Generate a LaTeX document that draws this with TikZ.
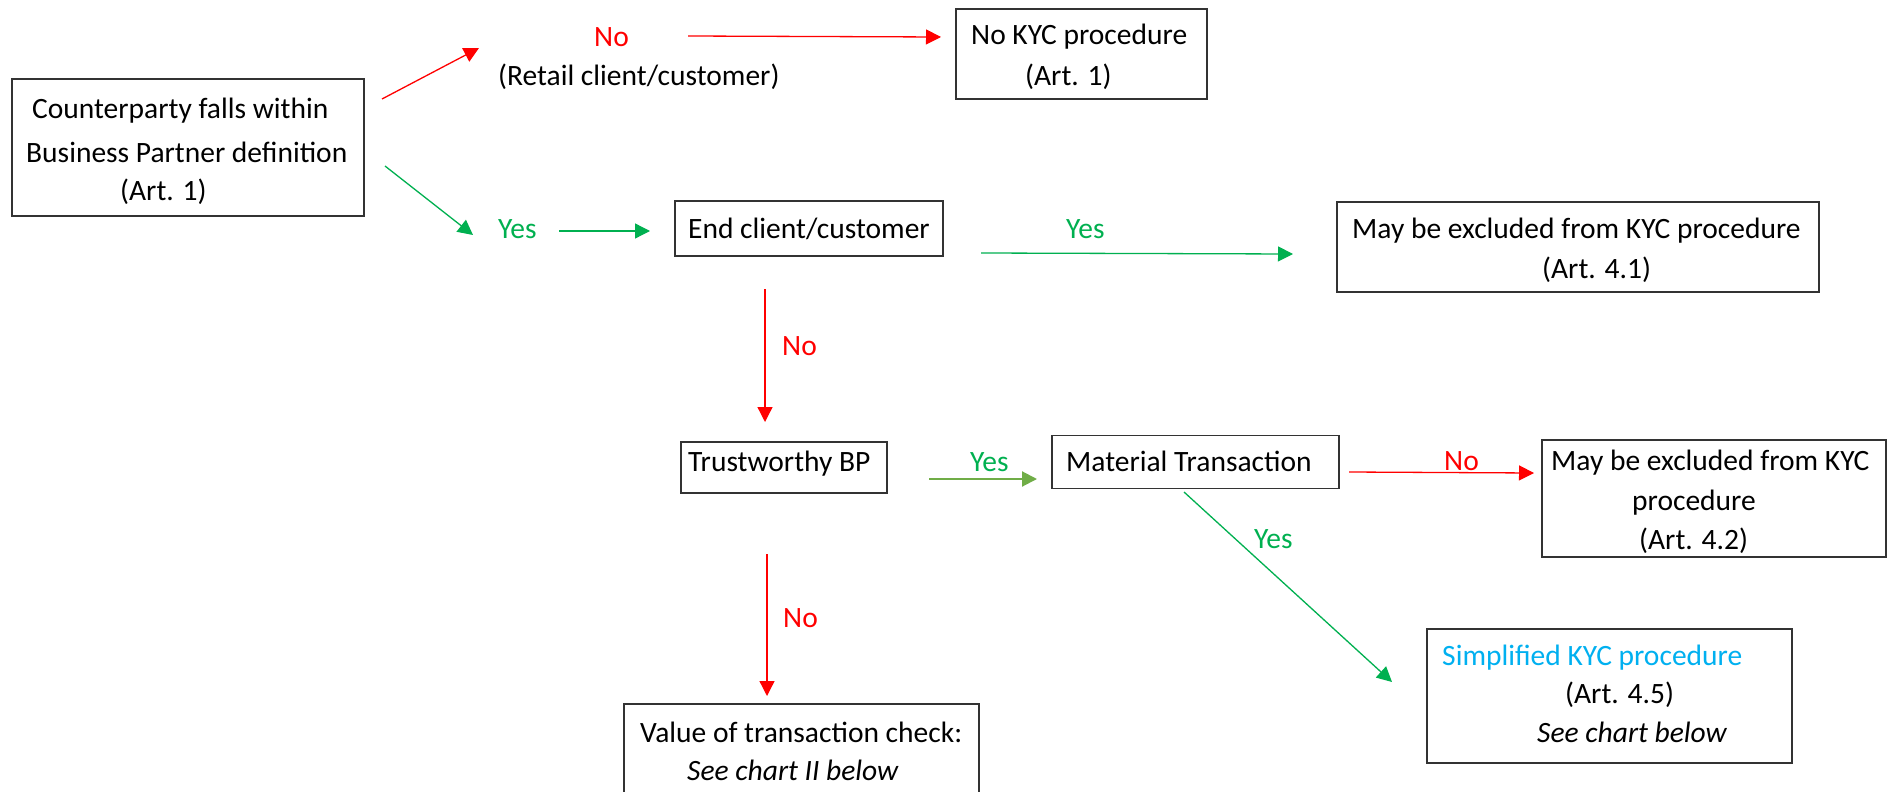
\documentclass[tikz,border=0pt]{standalone}
\usepackage{fontspec}
\setmainfont{Carlito}
\usetikzlibrary{arrows.meta}
\definecolor{cred}{HTML}{FF0000}
\definecolor{cgreen}{HTML}{00B050}
\definecolor{clgreen}{HTML}{70AD47}
\definecolor{ccyan}{HTML}{00B0F0}
\begin{document}
\begin{tikzpicture}[x=1pt,y=-1pt,
  box/.style={draw=black!80, line width=1.5pt, rectangle, inner sep=0pt},
  txt/.style={inner sep=0pt, anchor=base west, font=\fontsize{29.5}{35}\selectfont},
  redarr/.style={draw=cred, line width=1.3pt, -{Triangle[length=15pt,width=15pt]}, cred},
  grnarr/.style={draw=cgreen, line width=1.3pt, -{Triangle[length=15pt,width=15pt]}, cgreen},
  lgrnarr/.style={draw=clgreen, line width=2pt, -{Triangle[length=15pt,width=15pt]}, clgreen}]
\useasboundingbox (0,0) rectangle (1888,792);
\clip (0,0) rectangle (1888,792);
\fill[white] (0,0) rectangle (1888,792);

% boxes
\node[box, minimum width=352pt, minimum height=137pt] (A) at (188,147.5) {};
\node[box, minimum width=251pt, minimum height=90pt] (nokyc) at (1081.5,54) {};
\node[box, minimum width=268pt, minimum height=55pt] (endc) at (809,228.5) {};
\node[box, minimum width=482pt, minimum height=90pt] (ex41) at (1578,247) {};
\node[box, minimum width=206pt, minimum height=51pt] (trust) at (784,467.5) {};
\node[box, minimum width=287pt, minimum height=53pt] (mat) at (1195.5,462) {};
\node[box, minimum width=344pt, minimum height=117pt] (ex42) at (1714,498.5) {};
\node[box, minimum width=365pt, minimum height=134pt] (simp) at (1609.5,696) {};
\node[box, minimum width=355pt, minimum height=120pt] (val) at (801.5,764) {};

% texts
\node[txt] (tA1) at (32,118) {Counterparty falls within};
\node[txt] (tA2) at (26,162) {Business Partner definition};
\node[txt] (tA3) at (120,200) {(Art. 1)};
\node[txt, text=cred] (lNo1) at (594,47) {No};
\node[txt] (lRetail) at (498,85) {(Retail client/customer)};
\node[txt, text=cgreen] (lYes1) at (498,238) {Yes};
\node[txt] (tEnd) at (688,238) {End client/customer};
\node[txt] (tNok1) at (971,45) {No KYC procedure};
\node[txt] (tNok2) at (1025,85) {(Art. 1)};
\node[txt, text=cgreen] (lYes2) at (1066,238) {Yes};
\node[txt] (tE41a) at (1352,238) {May be excluded from KYC procedure};
\node[txt] (tE41b) at (1542,278) {(Art. 4.1)};
\node[txt, text=cred] (lNo2) at (782,355) {No};
\node[txt] (tTrust) at (688,471) {Trustworthy BP};
\node[txt, text=cgreen] (lYes3) at (970,471) {Yes};
\node[txt] (tMat) at (1066,471) {Material Transaction};
\node[txt, text=cgreen] (lYes4) at (1254,548) {Yes};
\node[txt, text=cred] (lNo3) at (1444,470) {No};
\node[txt] (tE42a) at (1551,470) {May be excluded from KYC};
\node[txt] (tE42b) at (1632,510) {procedure};
\node[txt] (tE42c) at (1639,549) {(Art. 4.2)};
\node[txt, text=ccyan] (tS1) at (1442,665) {Simplified KYC procedure};
\node[txt] (tS2) at (1565,703) {(Art. 4.5)};
\node[txt, font=\fontsize{29.5}{35}\selectfont\itshape] (tS3) at (1537,742) {See chart below};
\node[txt, text=cred] (lNo4) at (783,627) {No};
\node[txt] (tV1) at (640,742) {Value of transaction check:};
\node[txt, font=\fontsize{29.5}{35}\selectfont\itshape] (tV2) at (687,780) {See chart II below};

% connector end points
\coordinate (a1s) at (382,99);   \coordinate (a1e) at (479,48);
\coordinate (a2s) at (688,36);   \coordinate (a2e) at (941,37);
\coordinate (a3s) at (385,166);  \coordinate (a3e) at (473,235);
\coordinate (a4s) at (559,231);  \coordinate (a4e) at (650,231);
\coordinate (a5s) at (981,253);  \coordinate (a5e) at (1293,254);
\coordinate (a6s) at (765,289);  \coordinate (a6e) at (765,422);
\coordinate (a7s) at (929,479);  \coordinate (a7e) at (1037,479);
\coordinate (a8s) at (1349,472); \coordinate (a8e) at (1534,473);
\coordinate (a9s) at (1184,492); \coordinate (a9e) at (1392,682);
\coordinate (a10s) at (767,554); \coordinate (a10e) at (767,696);

\draw[redarr] (a1s) -- (a1e);
\draw[redarr] (a2s) -- (a2e);
\draw[grnarr] (a3s) -- (a3e);
\draw[grnarr] (a4s) -- (a4e);
\draw[grnarr] (a5s) -- (a5e);
\draw[redarr] (a6s) -- (a6e);
\draw[lgrnarr] (a7s) -- (a7e);
\draw[redarr] (a8s) -- (a8e);
\draw[grnarr] (a9s) -- (a9e);
\draw[redarr] (a10s) -- (a10e);
\end{tikzpicture}
\end{document}
